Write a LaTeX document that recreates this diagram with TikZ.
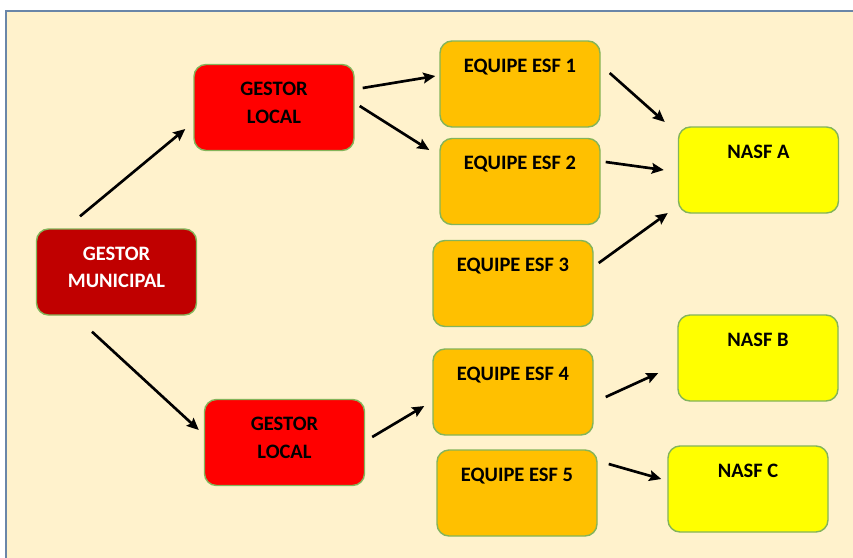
\documentclass[tikz,border=0pt]{standalone}
\usepackage{fontspec}
\usepackage{tikz}
\usetikzlibrary{arrows.meta,calc}
\setmainfont{Carlito}
\definecolor{sgcream}{HTML}{FFF2CC}
\definecolor{sgframe}{HTML}{6A86A8}
\definecolor{sgedge}{HTML}{84B45A}
\definecolor{sgdark}{HTML}{C00000}
\definecolor{sgred}{HTML}{FF0000}
\definecolor{sggold}{HTML}{FFC000}
\definecolor{sgyellow}{HTML}{FFFF00}

\begin{document}
\begin{tikzpicture}[x=0.3mm, y=-0.3mm,
  box/.style={draw=sgedge, line width=1.2pt, rounded corners=3.6mm,
    minimum width=48mm, minimum height=25.8mm, inner sep=0pt},
  lbl/.style={anchor=north, yshift=-5.5mm, inner sep=0pt, align=center,
    font=\fontsize{17.5}{23.5}\selectfont\bfseries},
  arr/.style={-{Stealth[length=3.6mm, width=3.2mm, inset=0.6mm]}, line width=0.8mm, black}]
  % background and frame
  \useasboundingbox (0,0) rectangle (853,557);
  \begin{scope}
    \clip (0,0) rectangle (853,557);
    \fill[white] (0,0) rectangle (853,557);
    \draw[sgframe, line width=0.6mm, fill=sgcream] (6,11) rectangle (880,590);
  \end{scope}
  % managers
  \node[box, fill=sgdark, label={[lbl, text=white]north:GESTOR\\MUNICIPAL}] (gm) at (116.5,272) {};
  \node[box, fill=sgred, label={[lbl]north:GESTOR\\LOCAL}] (gl1) at (274,107.5) {};
  \node[box, fill=sgred, label={[lbl]north:GESTOR\\LOCAL}] (gl2) at (284.5,442.5) {};
  % teams
  \node[box, fill=sggold, label={[lbl]north:EQUIPE ESF 1}] (esf1) at (520,84) {};
  \node[box, fill=sggold, label={[lbl]north:EQUIPE ESF 2}] (esf2) at (520,181.5) {};
  \node[box, fill=sggold, label={[lbl]north:EQUIPE ESF 3}] (esf3) at (513,283.5) {};
  \node[box, fill=sggold, label={[lbl]north:EQUIPE ESF 4}] (esf4) at (513,392) {};
  \node[box, fill=sggold, label={[lbl]north:EQUIPE ESF 5}] (esf5) at (517,493) {};
  % nasf
  \node[box, fill=sgyellow, label={[lbl]north:NASF A}] (nasfa) at (758.5,170) {};
  \node[box, fill=sgyellow, label={[lbl]north:NASF B}] (nasfb) at (758,358) {};
  \node[box, fill=sgyellow, label={[lbl]north:NASF C}] (nasfc) at (748,489) {};
  % arrows
  \draw[arr] ($(gm.north)+(-36.5,-12)$) -- ($(gl1.west)+(-8,21.5)$);
  \draw[arr] ($(gm.south)+(-24.5,16)$) -- ($(gl2.west)+(-5,-12.5)$);
  \draw[arr] ($(gl1.east)+(8,-19.5)$) -- ($(esf1.west)+(-4,-8)$);
  \draw[arr] ($(gl1.east)+(5,-1.5)$) -- ($(esf2.west)+(-10,-31.5)$);
  \draw[arr] ($(esf1.east)+(9,-11)$) -- ($(nasfa.west)+(-13,-48)$);
  \draw[arr] ($(esf2.east)+(5,-19.5)$) -- ($(nasfa.west)+(-14,0)$);
  \draw[arr] ($(esf3.east)+(5,-20.5)$) -- ($(nasfa.west)+(-10,43)$);
  \draw[arr] ($(gl2.east)+(7,-5.5)$) -- ($(esf4.west)+(-8,14)$);
  \draw[arr] ($(esf4.east)+(12,5)$) -- ($(nasfb.west)+(-19,15)$);
  \draw[arr] ($(esf5.east)+(11,-29)$) -- ($(nasfc.west)+(-6,-10)$);
\end{tikzpicture}
\end{document}
